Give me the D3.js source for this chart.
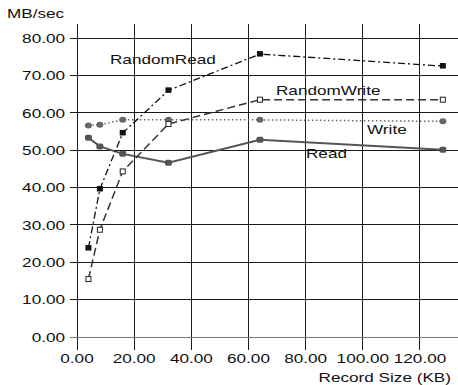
<!DOCTYPE html>
<html>
<head>
<meta charset="utf-8">
<script src="https://cdn.jsdelivr.net/npm/d3@7"></script>
<style>
  body { margin: 0; background: #fff; }
  text { font-family: "Liberation Sans", Arial, sans-serif; font-size: 13.5px; fill: #111; }
</style>
</head>
<body>
<svg id="chart" width="458" height="385"></svg>
<script>
// record sizes (KB) and throughput (MB/sec) per access pattern
var recordSizes = [4, 8, 16, 32, 64, 128]
var readVals = [53.3, 51.0, 49.0, 46.6, 52.8, 50.1]
var writeVals = [56.6, 56.8, 58.1, 58.1, 58.1, 57.7]
var randomReadVals = [23.8, 39.6, 54.6, 66.0, 75.7, 72.5]
var randomWriteVals = [15.5, 28.7, 44.3, 57.0, 63.5, 63.5]

var xTicks = [0, 20, 40, 60, 80, 100, 120]
var yTicks = [0, 10, 20, 30, 40, 50, 60, 70, 80]

var svg = d3.select('#chart')

var x = d3.scaleLinear().domain([0, 133.3]).range([77, 458])
var y = d3.scaleLinear().domain([0, 83.75]).range([337, 24])

var stretch = 1.27  // wide lettering

function label(g, px, py, str, anchor){
    g.append('text')
        .attr('transform', 'translate(' + px + ',' + py + ') scale(' + stretch + ',1)')
        .attr('text-anchor', anchor || 'start')
        .attr('dominant-baseline', 'central')
        .text(str)
}

// grid, ticks sticking out past the axes
var grid = svg.append('g').attr('shape-rendering', 'crispEdges')
grid.selectAll('.vg')
    .data(xTicks)
    .enter()
    .append('line')
    .attr('x1', function(d){ return x(d) })
    .attr('x2', function(d){ return x(d) })
    .attr('y1', 24)
    .attr('y2', 350)
    .style('stroke', '#1a1a1a')

grid.selectAll('.hg')
    .data(yTicks)
    .enter()
    .append('line')
    .attr('x1', 70)
    .attr('x2', 458)
    .attr('y1', function(d){ return y(d) })
    .attr('y2', function(d){ return y(d) })
    .style('stroke', function(d){ return d === 0 ? '#777' : '#1a1a1a' })

var labels = svg.append('g')
yTicks.forEach(function(d){ label(labels, 65, y(d), d3.format('.2f')(d), 'end') })
xTicks.forEach(function(d){ label(labels, x(d), 358, d3.format('.2f')(d), 'middle') })
label(labels, 451, 377, 'Record Size (KB)', 'end')
label(labels, 7, 13, 'MB/sec', 'start')

var line = d3.line()
    .x(function(d){ return x(d[0]) })
    .y(function(d){ return y(d[1]) })

function pairs(vals){ return recordSizes.map(function(r, i){ return [r, vals[i]] }) }

var series = [
    {name: 'Write', vals: writeVals, stroke: '#666', width: 1.5, dash: '1.5,2.5'},
    {name: 'Read', vals: readVals, stroke: '#555', width: 2, dash: null},
    {name: 'RandomWrite', vals: randomWriteVals, stroke: '#333', width: 1.5, dash: '8,4'},
    {name: 'RandomRead', vals: randomReadVals, stroke: '#111', width: 1.3, dash: '7,3,2,3'}
]

series.forEach(function(s){
    svg.append('path')
        .datum(pairs(s.vals))
        .attr('d', line)
        .style('fill', 'none')
        .style('stroke', s.stroke)
        .style('stroke-width', s.width)
        .style('stroke-dasharray', s.dash)
})

// markers
svg.selectAll('.mw')
    .data(pairs(writeVals))
    .enter()
    .append('ellipse')
    .attr('cx', function(d){ return x(d[0]) })
    .attr('cy', function(d){ return y(d[1]) })
    .attr('rx', 3.5)
    .attr('ry', 3)
    .style('fill', '#666')

svg.selectAll('.mr')
    .data(pairs(readVals))
    .enter()
    .append('rect')
    .attr('x', function(d){ return x(d[0]) - 3.5 })
    .attr('y', function(d){ return y(d[1]) - 3 })
    .attr('width', 7)
    .attr('height', 6)
    .attr('rx', 2)
    .style('fill', '#555')

svg.selectAll('.mrw')
    .data(pairs(randomWriteVals))
    .enter()
    .append('rect')
    .attr('x', function(d){ return x(d[0]) - 2.5 })
    .attr('y', function(d){ return y(d[1]) - 2.5 })
    .attr('width', 5)
    .attr('height', 5)
    .style('fill', '#fff')
    .style('stroke', '#222')
    .style('stroke-width', 1)

svg.selectAll('.mrr')
    .data(pairs(randomReadVals))
    .enter()
    .append('rect')
    .attr('x', function(d){ return x(d[0]) - 3 })
    .attr('y', function(d){ return y(d[1]) - 3 })
    .attr('width', 6)
    .attr('height', 5.5)
    .style('fill', '#111')

// series names
label(labels, 110, 59, 'RandomRead', 'start')
label(labels, 276, 90, 'RandomWrite', 'start')
label(labels, 367, 129, 'Write', 'start')
label(labels, 306, 153, 'Read', 'start')
</script>
</body>
</html>
